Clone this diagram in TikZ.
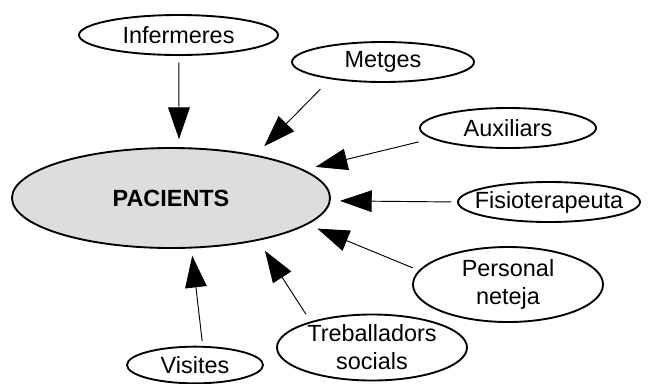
\documentclass[tikz,border=0pt]{standalone}
\usepackage{fontspec}
\setmainfont{Liberation Sans}
\usetikzlibrary{shapes.geometric, arrows.meta}
\definecolor{pacgray}{HTML}{DDDDDD}

\begin{document}
\begin{tikzpicture}[x=0.03cm, y=-0.03cm,
		bubble/.style={draw, ellipse, line width=1.6pt, inner sep=0pt, align=center, font=\fontsize{20}{24}\selectfont},
		conn/.style={line width=0.8pt, -{Triangle[length=0.95cm, width=0.65cm]}}]
		\useasboundingbox (0, 0) rectangle (649, 383);
		\node[bubble, fill=pacgray, minimum width=9.54cm, minimum height=3cm, font=\fontsize{20}{24}\selectfont\bfseries] (pac) at (171, 198) {PACIENTS};
		\node[bubble, minimum width=5.97cm, minimum height=1.2cm] (inf) at (178.5, 35) {Infermeres};
		\node[bubble, minimum width=5.46cm, minimum height=1.2cm] (met) at (383, 62) {Metges};
		\node[bubble, minimum width=5.28cm, minimum height=1.2cm] (aux) at (508, 128) {Auxiliars};
		\node[bubble, minimum width=5.46cm, minimum height=1.2cm, inner xsep=-0.35cm] (fis) at (549, 202) {Fisioterapeuta};
		\node[bubble, minimum width=5.7cm, minimum height=2.25cm] (per) at (508, 284.5) {Personal\\neteja};
		\node[bubble, minimum width=5.7cm, minimum height=1.98cm] (tre) at (372, 347.5) {Treballadors\\socials};
		\node[bubble, minimum width=4.08cm, minimum height=1.1cm] (vis) at (195, 365) {Visites};
		\foreach \from/\a/\b/\s/\t in {inf/-89/81/0.2/0.24, met/198/27/0.42/0.36, aux/188/12/0.4/0.36, fis/180/-1/0.18/0.28, per/171/-11/0.2/0.32, tre/157/-26/0.26/0.36, vis/68/-68/0.15/0.22}
			\draw[conn, shorten <=\s cm, shorten >=\t cm] (\from.\a) -- (pac.\b);
	\end{tikzpicture}
\end{document}
